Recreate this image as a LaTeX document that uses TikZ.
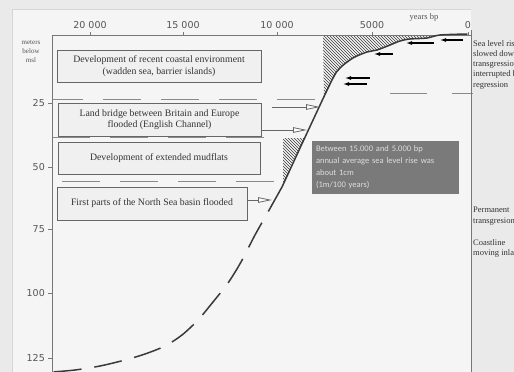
\documentclass[tikz,border=0pt]{standalone}
\usepackage{fontspec}
\setmainfont{Liberation Serif}
\newfontfamily\axisfont{DejaVu Sans}
\newfontfamily\notefont{Carlito}
\usetikzlibrary{arrows.meta,patterns}
\definecolor{bgout}{HTML}{EAEAEA}
\definecolor{bgin}{HTML}{F5F5F5}
\definecolor{bordc}{HTML}{D6D6D6}
\definecolor{axisc}{HTML}{777777}
\definecolor{labc}{HTML}{555555}
\definecolor{boxfill}{HTML}{F0F0F0}
\definecolor{boxdraw}{HTML}{666666}
\definecolor{txtc}{HTML}{333333}
\definecolor{curvec}{HTML}{3A3A3A}
\definecolor{notefill}{HTML}{7A7A7A}
\definecolor{notetext}{HTML}{DDDDDD}
\definecolor{levelc}{HTML}{8A8A8A}
\begin{document}
\begin{tikzpicture}[x=1pt,y=-1pt,
  axisline/.style={draw=axisc,line width=0.8pt},
  axlab/.style={font=\axisfont\fontsize{9.5}{11}\selectfont,text=labc,inner sep=0pt},
  smalllab/.style={font=\fontsize{7}{9}\selectfont,text=labc,inner sep=0pt,align=center},
  box/.style={draw=boxdraw,fill=boxfill,line width=0.8pt,inner sep=0pt,align=center,
    text=txtc,font=\fontsize{9.8}{11.5}\selectfont},
  note/.style={fill=notefill,inner sep=0pt,align=left,text width=139pt,
    text=notetext,font=\notefont\fontsize{8.5}{12}\selectfont},
  sidetext/.style={inner sep=0pt,align=left,text=txtc,font=\fontsize{8.5}{10.3}\selectfont},
  level/.style={draw=levelc,line width=0.9pt,dash pattern=on 38pt off 20pt},
  curve/.style={draw=curvec,line width=1.5pt,line cap=round},
  dashcurve/.style={draw=curvec,line width=1.5pt,dash pattern=on 28pt off 13pt},
  hollowarrow/.style={draw=boxdraw,line width=0.8pt,-{Triangle[length=14pt,width=5.5pt,fill=white]}},
  blackarrow/.style={draw=black,line width=1.1pt,-{Latex[length=6pt,width=4pt]}},
  hatch/.style={pattern=north west lines,pattern color=curvec}
]
\useasboundingbox (0,0) rectangle (514,372);
\clip (0,0) rectangle (514,372);
\fill[bgout] (0,0) rectangle (514,372);
\fill[bgin] (12,9) rectangle (471,372);
\draw[bordc,line width=0.8pt] (12,372) -- (12,9) -- (471,9);

% hatched areas
\fill[hatch] (323,35) -- (440,35) -- (427,38) -- (410,39) -- (400,41) -- (390,45)
  -- (377,50) -- (367,52) -- (353,58) -- (340,68) -- (332,80) -- (324,97) -- cycle;
\fill[hatch] (283,138) -- (305,138) -- (283,185) -- cycle;

% level lines
\draw[level,dash phase=7pt] (52,99) -- (322,99);
\draw[level,dash pattern=on 37pt off 25pt] (390,93) -- (473,93);
\draw[level] (52,137) -- (283,137);
\draw[level,dash phase=-10pt] (52,181) -- (283,181);

% axes
\draw[axisline] (52,372) -- (52,35) -- (471,35);
\draw[axisline] (471,30) -- (471,372);
\foreach \x/\l [count=\i] in {90/20 000,183/15 000,277/10 000,372/5000,468/0}{
  \draw[axisline] (\x,35) -- (\x,32);
  \node[axlab] (xl\i) at (\x,25) {\l};
}
\foreach \y/\l [count=\i] in {103/25,167/50,229/75,293/100,358/125}{
  \draw[axisline] (52,\y) -- (48,\y);
  \node[axlab,anchor=east] (yl\i) at (45,\y) {\l};
}
\node[smalllab] (ytitle) at (31,52) {meters\\below\\msl};
\node[smalllab,font=\fontsize{8.5}{10}\selectfont] (xtitle) at (424,17) {years bp};

% boxes
\node[box,minimum width=204pt,minimum height=32pt] (box1) at (159,66)
  {Development of recent coastal environment\\(wadden sea, barrier islands)};
\node[box,minimum width=203pt,minimum height=33pt] (box2) at (159.5,119.5)
  {Land bridge between Britain and Europe\\flooded (English Channel)};
\node[box,minimum width=202pt,minimum height=32pt] (box3) at (159,158)
  {Development of extended mudflats};
\node[box,minimum width=190pt,minimum height=33pt] (box4) at (152,203.5)
  {First parts of the North Sea basin flooded};

% curve
\draw[curve] plot[smooth,tension=0.5] coordinates {(282,187) (307,133) (332,80) (340,68)
  (353,58) (367,52) (377,50) (390,45) (400,41) (410,39) (427,38) (440,35) (467,34)};
\draw[dashcurve] plot[smooth] coordinates {(282,187) (268,212) (255,235) (241,262)
  (228,283) (213,302) (198,320) (182,335) (165,346) (145,354) (125,360) (100,366)
  (75,370) (52,372)};

% hollow arrows
\coordinate (tip2b) at (320,107);
\coordinate (tail2b) at (272,107);
\coordinate (tip2) at (307,130);
\coordinate (tip4) at (272,200);
\draw[hollowarrow] (tail2b) -- (tip2b);
\draw[hollowarrow] (box2.east |- tip2) -- (tip2);
\draw[hollowarrow] (box4.east |- tip4) -- (tip4);

% black arrows
\coordinate (ba1) at (463,40); \coordinate (bh1) at (440,40);
\coordinate (ba2) at (434,43); \coordinate (bh2) at (406,43);
\coordinate (ba3) at (393,54); \coordinate (bh3) at (374,54);
\coordinate (ba4) at (370,78); \coordinate (bh4) at (345,78);
\coordinate (ba5) at (367,84); \coordinate (bh5) at (343,84);
\foreach \i in {1,...,5}{\draw[blackarrow] (ba\i) -- (bh\i);}

% note
\node[note,minimum width=147pt,minimum height=53pt] (note) at (385.5,167.5)
  {Between 15.000 and 5.000 bp\\annual average sea level rise was\\about 1cm\\(1m/100 years)};

% side texts
\node[sidetext,anchor=north west] (side1) at (473,40)
  {Sea level rise\\slowed down\\transgression\\interrupted by\\regression};
\node[sidetext,anchor=north west] (side2) at (473,207) {Permanent\\transgresion};
\node[sidetext,anchor=north west] (side3) at (473,239) {Coastline\\moving inland};
\end{tikzpicture}
\end{document}
